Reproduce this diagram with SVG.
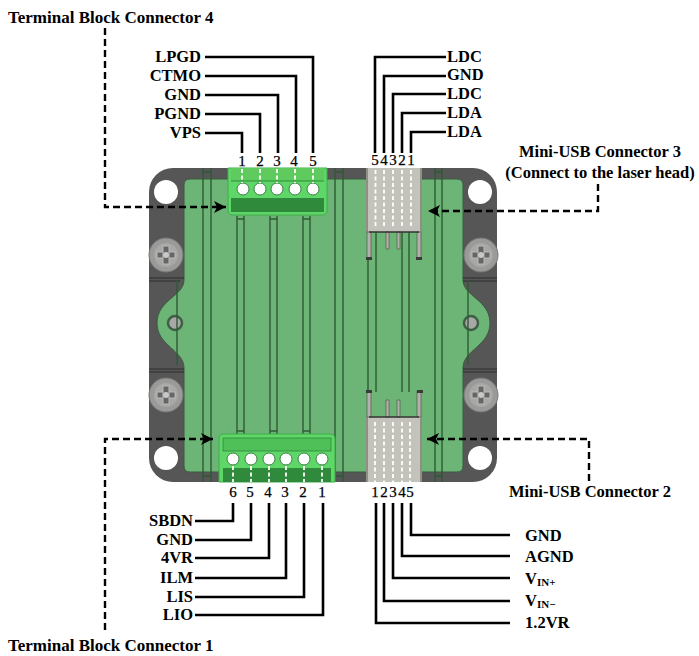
<svg xmlns="http://www.w3.org/2000/svg" width="699" height="656" viewBox="0 0 699 656">
<style>
text{font-family:"Liberation Serif","Times New Roman",serif;font-weight:bold;fill:#000}
.l{font-size:16.500px}
.n{font-size:15px;text-anchor:middle;font-weight:normal;stroke:#000;stroke-width:.25px}
.t{font-size:16.500px}
.b{font-size:17px}
.w{fill:none;stroke:#000;stroke-width:2.6}
.d{fill:none;stroke:#000;stroke-width:2.400;stroke-dasharray:7 4}
.s{fill:none;stroke:#2f5a36;stroke-width:1.4}
.p{fill:none;stroke:#fff;stroke-width:1.8;stroke-dasharray:4 2.5}
.h{fill:#fff;stroke:#3f7f48;stroke-width:1}
.hd{fill:#000}
.scr{fill:#9a9a98;stroke:#777;stroke-width:1}
.x{fill:#666;stroke:#bbb;stroke-width:1}
</style>
<defs>
<g id="screw"><circle r="17" class="scr"/><circle r="12" fill="#a8a8a6"/><rect x="-9" y="-3" width="18" height="6" class="x"/><rect x="-3" y="-9" width="6" height="18" class="x"/><circle r="3" fill="#c8c8c6"/></g>
<marker id="a" markerWidth="14" markerHeight="14" refX="12" refY="6" orient="auto" markerUnits="userSpaceOnUse"><path d="M0 0L12 6L0 12L3 6Z" class="hd"/></marker>
</defs>
<rect width="699" height="656" fill="#fff"/>
<g id="board">
<rect x="149" y="168" width="348" height="314" rx="24" fill="#565656"/>
<path d="M190 179H457Q463 179 463 185V280C463 296 490 300 490 323C490 346 463 350 463 368V466Q463 472 457 472H190Q184 472 184 466V368C184 350 157 346 157 323C157 300 184 296 184 280V185Q184 179 190 179Z" fill="#6db576" stroke="#3a5a40" stroke-width="1"/>
<path d="M149 278H184M149 281H180M149 372H184M149 369H184M463 278H497M463 281H497M463 372H497M463 369H497" stroke="#2c2c2c" stroke-width="1.2"/>
<circle cx="166" cy="192" r="12" fill="#fff"/><circle cx="480" cy="192" r="12" fill="#fff"/>
<circle cx="166" cy="458" r="12" fill="#fff"/><circle cx="480" cy="458" r="12" fill="#fff"/>
<use href="#screw" x="166" y="255"/><use href="#screw" x="481" y="255"/>
<use href="#screw" x="166" y="395"/><use href="#screw" x="481" y="395"/>
<circle cx="175" cy="323" r="7" fill="#a8a8a6" stroke="#3f5f45" stroke-width="2.5"/>
<circle cx="471" cy="323" r="7" fill="#a8a8a6" stroke="#3f5f45" stroke-width="2.5"/>
<path d="M203 168V482M211 168V482M237 216V434M244 216V434M270 216V434M277 216V434M303 216V434M310 216V434M335 168V482M343 168V482M368 232V392M376 232V392M402 232V392M409 232V392M435 168V482M442 168V482M177 280V365M468 280V365" class="s"/>
<path d="M203 172H211M203 476H211M237 219H244M270 219H277M303 219H310M237 431H244M270 431H277M303 431H310M335 172H343M335 476H343M435 172H442M435 476H442" class="s"/>
</g>
<g id="mini-usb-3">
<rect x="367" y="168" width="54" height="64" fill="#c3c3bb"/>
<path d="M367 168V232M421 168V232" stroke="#8f8f85" stroke-width="2"/>
<path d="M367 232H371V258H367ZM417 232H421V258H417ZM386 232H389V249H386ZM397 232H400V249H397Z" fill="#b2b2aa" stroke="#55554f" stroke-width=".7"/>
<path d="M366 257h6v3h-6zM416 257h6v3h-6z" fill="#3a3a3a"/>
<path d="M369 232H419" stroke="#333" stroke-width="1.4"/>
<path d="M375.500 170V226M384 170V226M393 170V226M402 170V226M411 170V226" class="p"/>
</g>
<g id="mini-usb-2">
<rect x="367" y="417" width="54" height="65" fill="#c3c3bb"/>
<path d="M367 417V482M421 417V482" stroke="#8f8f85" stroke-width="2"/>
<path d="M367 391H371V417H367ZM417 391H421V417H417ZM386 400H389V417H386ZM397 400H400V417H397Z" fill="#b2b2aa" stroke="#55554f" stroke-width=".7"/>
<path d="M366 390h6v3h-6zM417 390h6v3h-6z" fill="#3a3a3a"/>
<path d="M369 417H419" stroke="#333" stroke-width="1.4"/>
<path d="M375 422V482M384 422V482M393 422V482M402 422V482M410 422V482" class="p"/>
</g>
<g id="terminal-block-4">
<path d="M228 168H327V210Q327 215 322 215H233Q228 215 228 210Z" fill="#5fd668" stroke="#3fae4a" stroke-width="1"/>
<rect x="231" y="168" width="93" height="13" fill="#5fcb5f"/>
<path d="M231 181H324" stroke="#2f8a3c"/>
<rect x="231" y="198" width="93" height="14" fill="#2f8a3c"/>
<circle cx="243" cy="189" r="6" class="h"/><circle cx="260" cy="189" r="6" class="h"/><circle cx="277" cy="189" r="6" class="h"/><circle cx="295" cy="189" r="6" class="h"/><circle cx="313" cy="189" r="6" class="h"/>
<path d="M242 169V183M260 169V183M277 169V183M295 169V183M313 169V183" class="p" stroke-width="1.2"/>
</g>
<g id="terminal-block-1">
<path d="M219 439Q219 434 224 434H330Q335 434 335 439V482H219Z" fill="#5fd668" stroke="#3fae4a" stroke-width="1"/>
<rect x="223" y="438" width="108" height="13" fill="#4fbf58" stroke="#2f8a3c" stroke-width=".8"/>
<rect x="223" y="468" width="108" height="14" fill="#2f8a3c"/>
<circle cx="233" cy="459" r="6" class="h"/><circle cx="251" cy="459" r="6" class="h"/><circle cx="269" cy="459" r="6" class="h"/><circle cx="286" cy="459" r="6" class="h"/><circle cx="304" cy="459" r="6" class="h"/><circle cx="322" cy="459" r="6" class="h"/>
<path d="M233 466V482M251 466V482M269 466V482M286 466V482M304 466V482M322 466V482" class="p" stroke-width="1.2"/>
</g>
<g id="connectors">
<path class="w" d="M205 57H313V153M205 76H296V153M205 95H278V153M205 114H260V153M205 133H242V153"/>
<path class="w" d="M446 57H375V153M446 76H384V153M446 94H393V153M446 113H402V153M446 132H411V153"/>
<path class="w" d="M195 521H233V503M195 540H251V503M195 558H269V503M195 578H286V503M195 597H304V503M195 615H323V503"/>
<path class="w" d="M510 535H411V503M510 556H402V503M510 578H393V503M510 601H384V503M510 623H376V503"/>
<path class="d" d="M105 28V207H226" marker-end="url(#a)"/>
<path class="d" d="M598 184V211H428" marker-end="url(#a)"/>
<path class="d" d="M589 481V439H427" marker-end="url(#a)"/>
<path class="d" d="M105 630V439H213" marker-end="url(#a)"/>
</g>
<g id="labels">
<text class="b" x="8" y="23">Terminal Block Connector 4</text>
<text class="b" x="8" y="651">Terminal Block Connector 1</text>
<text class="t" x="600" y="157" text-anchor="middle">Mini-USB Connector 3</text>
<text class="t" x="600" y="178" text-anchor="middle">(Connect to the laser head)</text>
<text class="t" x="590" y="497" text-anchor="middle">Mini-USB Connector 2</text>
<text class="l" x="201" y="62" text-anchor="end">LPGD</text>
<text class="l" x="201" y="81" text-anchor="end">CTMO</text>
<text class="l" x="201" y="100" text-anchor="end">GND</text>
<text class="l" x="201" y="119" text-anchor="end">PGND</text>
<text class="l" x="201" y="138" text-anchor="end">VPS</text>
<text class="l" x="447" y="62">LDC</text>
<text class="l" x="447" y="80">GND</text>
<text class="l" x="447" y="99">LDC</text>
<text class="l" x="447" y="118">LDA</text>
<text class="l" x="447" y="137">LDA</text>
<text class="l" x="193" y="526" text-anchor="end">SBDN</text>
<text class="l" x="193" y="545" text-anchor="end">GND</text>
<text class="l" x="193" y="563" text-anchor="end">4VR</text>
<text class="l" x="193" y="583" text-anchor="end">ILM</text>
<text class="l" x="193" y="602" text-anchor="end">LIS</text>
<text class="l" x="193" y="620" text-anchor="end">LIO</text>
<text class="l" x="525" y="541">GND</text>
<text class="l" x="525" y="562">AGND</text>
<text class="l" x="525" y="584">V<tspan font-size="11" dy="2">IN+</tspan></text>
<text class="l" x="525" y="606">V<tspan font-size="11" dy="2">IN−</tspan></text>
<text class="l" x="525" y="628">1.2VR</text>
<text class="n" x="242" y="166">1</text><text class="n" x="260" y="166">2</text><text class="n" x="277" y="166">3</text><text class="n" x="294" y="166">4</text><text class="n" x="313" y="166">5</text>
<text class="n" x="375" y="165">5</text><text class="n" x="384" y="165">4</text><text class="n" x="393" y="165">3</text><text class="n" x="402" y="165">2</text><text class="n" x="411" y="165">1</text>
<text class="n" x="233" y="497">6</text><text class="n" x="250" y="497">5</text><text class="n" x="268" y="497">4</text><text class="n" x="285" y="497">3</text><text class="n" x="303" y="497">2</text><text class="n" x="322" y="497">1</text>
<text class="n" x="375" y="497">1</text><text class="n" x="384" y="497">2</text><text class="n" x="393" y="497">3</text><text class="n" x="402" y="497">4</text><text class="n" x="410" y="497">5</text>
</g>
</svg>
